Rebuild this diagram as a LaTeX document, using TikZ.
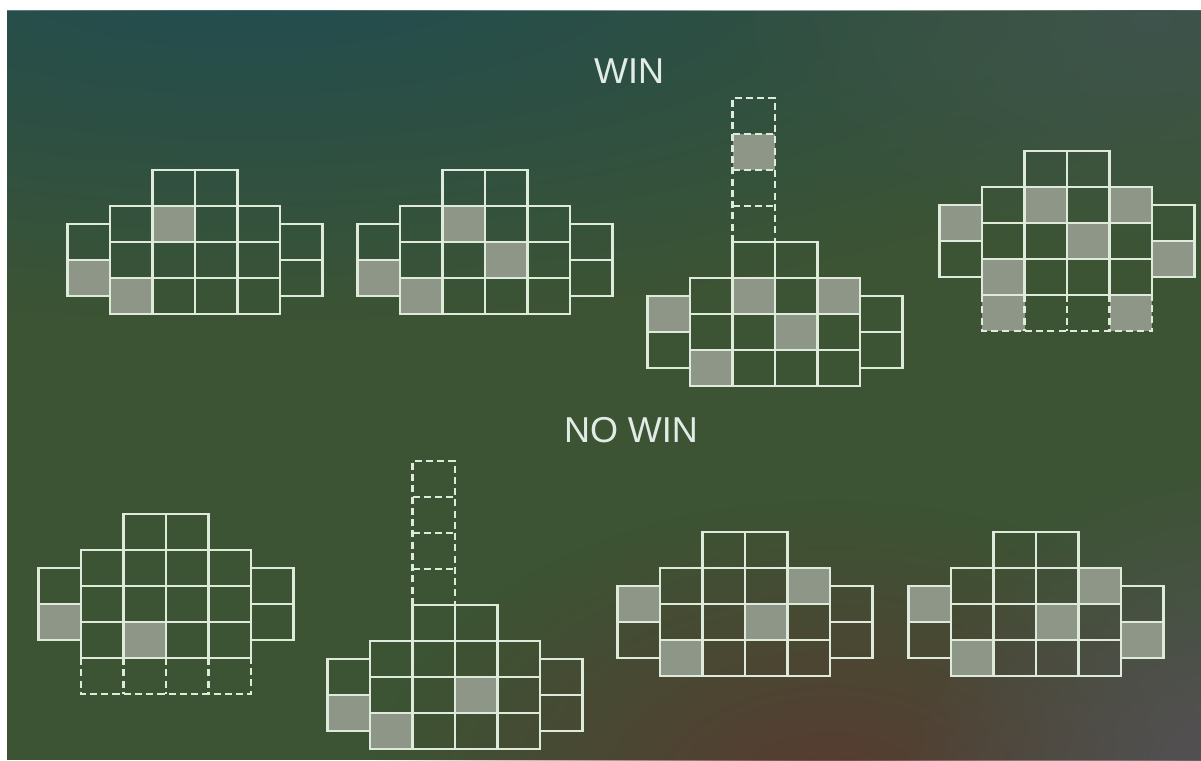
\documentclass[tikz,border=0pt]{standalone}
\usepackage{fontspec}
\setmainfont{Liberation Sans}
\usetikzlibrary{fadings}

\definecolor{bgteal}{RGB}{32,76,82}
\definecolor{bgmist}{RGB}{62,84,76}
\definecolor{bggreen}{RGB}{60,84,52}
\definecolor{bgbrown}{RGB}{90,58,50}
\definecolor{bggray}{RGB}{86,80,88}
\definecolor{reelline}{RGB}{222,234,218}
\definecolor{reellit}{RGB}{142,150,136}
\definecolor{labeltext}{RGB}{226,236,230}

\tikzfading[name=softblob, inner color=transparent!0, outer color=transparent!100]

\tikzset{
  gridline/.style={draw=reelline, line width=1.6pt},
  dashline/.style={draw=reelline, line width=1.6pt, dash pattern=on 5pt off 3pt},
  litcell/.style={fill=reellit},
  banner/.style={text=labeltext, font=\fontsize{25.6}{30}\selectfont, inner sep=0pt},
}

\newcommand{\reelgrid}{%
  \draw[gridline] (0,0) rectangle (4,3) (0,1) -- (4,1) (0,2) -- (4,2);
  \draw[gridline] (1,0) -- (1,3) (2,0) -- (2,3) (3,0) -- (3,3);
  \draw[gridline] (1,0) rectangle (3,-1) (2,0) -- (2,-1);
  \draw[gridline] (-1,0.5) rectangle (0,2.5) (-1,1.5) -- (0,1.5);
  \draw[gridline] (4,0.5) rectangle (5,2.5) (4,1.5) -- (5,1.5);}
\newcommand{\tallreel}{%
  \draw[dashline] (1,-1) -- (1,-5) -- (2,-5) -- (2,-1);
  \draw[dashline] (1,-2) -- (2,-2) (1,-3) -- (2,-3) (1,-4) -- (2,-4);}
\newcommand{\extrarow}{%
  \draw[dashline] (0,3) -- (0,4) -- (4,4) -- (4,3);
  \draw[dashline] (1,3) -- (1,4) (2,3) -- (2,4) (3,3) -- (3,4);}
\newcommand{\lit}[2]{\fill[litcell] (#1,#2) rectangle ++(1,1);}

\begin{document}
\begin{tikzpicture}[x=0.025cm, y=-0.025cm]
  \useasboundingbox (0,0) rectangle (1201,761);
  \fill[white] (0,0) rectangle (1201,761);
  \fill[bggreen] (7,11) rectangle (1201,760);
  \begin{scope}
    \clip (7,11) rectangle (1201,760);
    \fill[bgteal, path fading=softblob] (250,-40) ellipse (1050 and 360);
    \fill[bgmist, path fading=softblob] (1150,20) ellipse (420 and 240);
    \fill[bgbrown, path fading=softblob] (830,800) ellipse (460 and 300);
    \fill[bggray, path fading=softblob] (1240,780) ellipse (340 and 320);
  \end{scope}

  \node[banner] (win) at (629,71) {WIN};
  \node[banner] (nowin) at (631,430) {NO WIN};

  \begin{scope}[shift={(110,206)}, x=1.0625cm, y=-0.9cm]
    \lit{-1}{1.5} \lit{1}{0} \lit{0}{2}
    \reelgrid
  \end{scope}
  \begin{scope}[shift={(400,206)}, x=1.0625cm, y=-0.9cm]
    \lit{-1}{1.5} \lit{1}{0} \lit{2}{1} \lit{0}{2}
    \reelgrid
  \end{scope}
  \begin{scope}[shift={(690,278)}, x=1.0625cm, y=-0.9cm]
    \lit{1}{-4} \lit{-1}{0.5} \lit{1}{0} \lit{3}{0} \lit{2}{1} \lit{0}{2}
    \tallreel
    \reelgrid
  \end{scope}
  \begin{scope}[shift={(982,187)}, x=1.0625cm, y=-0.9cm]
    \lit{-1}{0.5} \lit{1}{0} \lit{3}{0} \lit{2}{1} \lit{0}{2} \lit{4}{1.5}
    \lit{0}{3} \lit{3}{3}
    \extrarow
    \reelgrid
  \end{scope}

  \begin{scope}[shift={(81,550)}, x=1.0625cm, y=-0.9cm]
    \lit{-1}{1.5} \lit{1}{2}
    \extrarow
    \reelgrid
  \end{scope}
  \begin{scope}[shift={(370,641)}, x=1.0625cm, y=-0.9cm]
    \lit{-1}{1.5} \lit{2}{1} \lit{0}{2}
    \tallreel
    \reelgrid
  \end{scope}
  \begin{scope}[shift={(660,568)}, x=1.0625cm, y=-0.9cm]
    \lit{-1}{0.5} \lit{3}{0} \lit{2}{1} \lit{0}{2}
    \reelgrid
  \end{scope}
  \begin{scope}[shift={(951,568)}, x=1.0625cm, y=-0.9cm]
    \lit{-1}{0.5} \lit{3}{0} \lit{2}{1} \lit{0}{2} \lit{4}{1.5}
    \reelgrid
  \end{scope}
\end{tikzpicture}
\end{document}
